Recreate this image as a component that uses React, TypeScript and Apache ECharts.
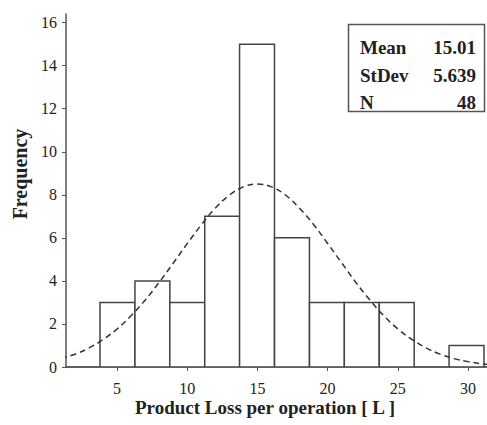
import React, { useEffect, useRef } from "react";
import * as echarts from "echarts";

const binLower = [3.79, 6.28, 8.76, 11.25, 13.73, 16.22, 18.71, 21.19, 23.68, 26.16, 28.65];
const binWidth = 2.486;
const counts = [3, 4, 3, 7, 15, 6, 3, 3, 3, 0, 1];

const curveX = [1, 2, 3, 4, 5, 6, 7, 8, 9, 10, 11, 12, 13, 14, 15, 16, 17, 18, 19, 20, 21, 22, 23, 24, 25, 26, 27, 28, 29, 30, 31, 32];
const curveY = [0.39, 0.59, 0.88, 1.27, 1.76, 2.38, 3.1, 3.93, 4.82, 5.73, 6.6, 7.38, 7.98, 8.37, 8.5, 8.37, 7.99, 7.38, 6.62, 5.74, 4.84, 3.94, 3.12, 2.38, 1.77, 1.28, 0.89, 0.6, 0.39, 0.25, 0.15, 0.09];

const xTickValues = [5, 10, 15, 20, 25, 30];
const yTickValues = [0, 2, 4, 6, 8, 10, 12, 14, 16];

const statLabels = ["Mean", "StDev", "N"];
const statValues = ["15.01", "5.639", "48"];

const xTitle = "Product Loss per operation [ L ]";
const yTitle = "Frequency";

const FONT = "Liberation Serif";
const AXIS = "#555";
const TEXT = "#222";

export default function App() {
  const ref = useRef<HTMLDivElement>(null);
  useEffect(() => {
    if (!ref.current) return;
    const chart = echarts.init(ref.current, null, { renderer: "svg" });
    const histData = binLower.map((lo, i) => [lo, lo + binWidth, counts[i]]);
    const curveData = curveX.map((x, i) => [x, curveY[i]]);

    const graphics: any[] = [
      {
        type: "rect",
        shape: { x: 348.5, y: 24.5, width: 136, height: 87 },
        style: { fill: "#fff", stroke: AXIS, lineWidth: 1.5 },
        z: 100,
      },
      {
        type: "text",
        x: 265,
        y: 407,
        style: { text: xTitle, fontFamily: FONT, fontWeight: "bold", fontSize: 19, fill: TEXT, textAlign: "center", textVerticalAlign: "middle" },
      },
      {
        type: "text",
        x: 20,
        y: 174,
        rotation: Math.PI / 2,
        style: { text: yTitle, fontFamily: FONT, fontWeight: "bold", fontSize: 20, fill: TEXT, textAlign: "center", textVerticalAlign: "middle" },
      },
    ];
    statLabels.forEach((l, i) => {
      const y = [47, 75, 102][i];
      graphics.push({
        type: "text",
        x: 360,
        y,
        z: 101,
        style: { text: l, fontFamily: FONT, fontWeight: "bold", fontSize: 19, fill: TEXT, textVerticalAlign: "middle", textAlign: "left" },
      });
      graphics.push({
        type: "text",
        x: 476,
        y,
        z: 101,
        style: { text: statValues[i], fontFamily: FONT, fontWeight: "bold", fontSize: 19, fill: TEXT, textVerticalAlign: "middle", textAlign: "right" },
      });
    });

    chart.setOption({
      animation: false,
      backgroundColor: "#fff",
      textStyle: { fontFamily: FONT },
      grid: { left: 66, top: 14, right: 0, bottom: 58, show: false },
      xAxis: [
        {
          type: "value",
          min: 1.37,
          max: 31.35,
          axisLine: { show: true, onZero: false, lineStyle: { color: AXIS, width: 1.5 } },
          axisTick: { show: true, length: 4, inside: false, customValues: xTickValues, lineStyle: { color: AXIS } },
          axisLabel: { customValues: xTickValues, fontFamily: FONT, fontSize: 16, color: TEXT, margin: 13 },
          splitLine: { show: false },
        },
        {
          type: "value",
          position: "top",
          min: 1.37,
          max: 31.35,
          axisLine: { show: true, lineStyle: { color: AXIS, width: 1.5 } },
          axisTick: { show: false },
          axisLabel: { show: false },
          splitLine: { show: false },
        },
      ],
      yAxis: {
        type: "value",
        min: 0,
        max: 16.4,
        axisLine: { show: true, lineStyle: { color: AXIS, width: 1.5 } },
        axisTick: { show: true, length: 4, customValues: yTickValues, lineStyle: { color: AXIS } },
        axisLabel: { customValues: yTickValues, fontFamily: FONT, fontSize: 16, color: TEXT, margin: 9 },
        splitLine: { show: false },
      },
      series: [
        {
          type: "custom",
          xAxisIndex: 0,
          data: histData,
          clip: true,
          renderItem: (params: any, api: any) => {
            const lo = api.value(0);
            const hi = api.value(1);
            const v = api.value(2);
            if (v <= 0) return null;
            const p0 = api.coord([lo, 0]);
            const p1 = api.coord([hi, v]);
            return {
              type: "rect",
              shape: { x: p0[0], y: p1[1], width: p1[0] - p0[0], height: p0[1] - p1[1] },
              style: { fill: "#fff", stroke: "#444", lineWidth: 1.5 },
            };
          },
          z: 2,
        },
        {
          type: "line",
          xAxisIndex: 0,
          data: curveData,
          smooth: 0.4,
          symbol: "none",
          clip: true,
          lineStyle: { color: "#333", width: 1.5, type: [6, 4] },
          z: 3,
        },
      ],
      graphic: graphics,
    });
    return () => chart.dispose();
  }, []);
  return <div ref={ref} style={{ position: "fixed", left: 0, top: 0, width: 487, height: 425 }} />;
}
